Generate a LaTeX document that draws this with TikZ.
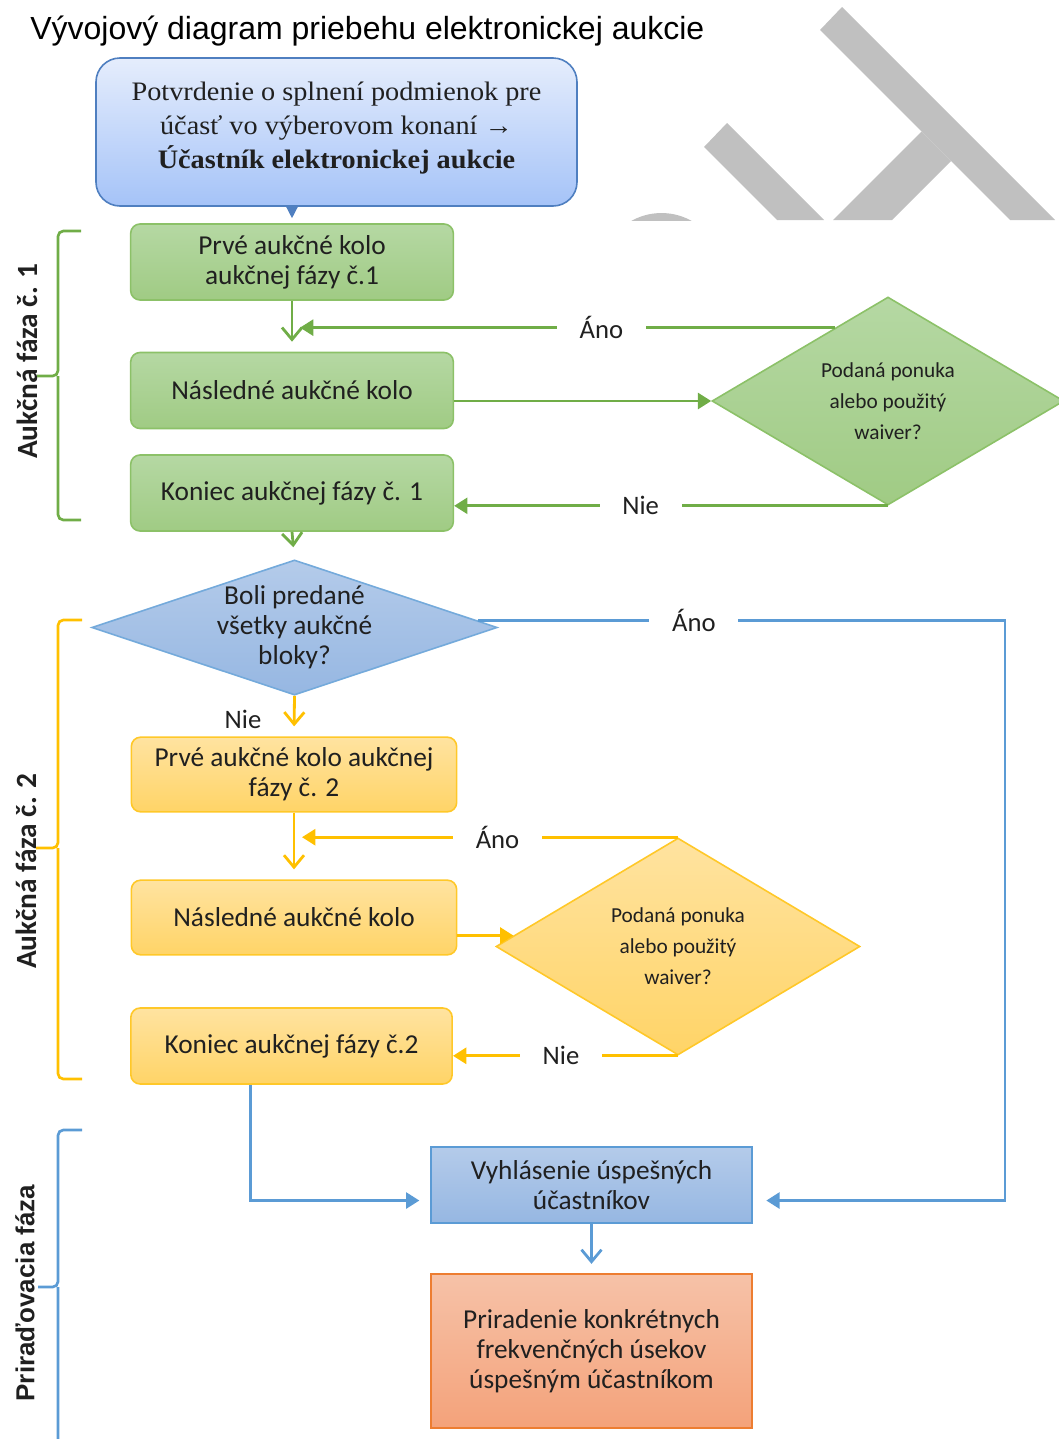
\documentclass[tikz,border=0pt]{standalone}
\usepackage{fontspec}
\setmainfont{Carlito}
\newfontfamily\titlefont{Liberation Sans}
\newfontfamily\startfont[FakeStretch=1.06]{Liberation Serif}
\usetikzlibrary{arrows.meta,calc,shapes.geometric}

\definecolor{wmgray}{HTML}{C0C0C0}
\definecolor{startline}{HTML}{4F7FC0}
\definecolor{starttop}{HTML}{E5EDFC}
\definecolor{startbot}{HTML}{A5C3F8}
\definecolor{grnline}{HTML}{70AD47}
\definecolor{grnborder}{HTML}{8CC168}
\definecolor{grntop}{HTML}{B5D8A3}
\definecolor{grnbot}{HTML}{A0CB84}
\definecolor{bluline}{HTML}{5B9BD5}
\definecolor{blutop}{HTML}{B4CBEA}
\definecolor{blubot}{HTML}{96B7E2}
\definecolor{yelline}{HTML}{FFC000}
\definecolor{yelborder}{HTML}{FFC829}
\definecolor{yeltop}{HTML}{FFE3A0}
\definecolor{yelbot}{HTML}{FFD467}
\definecolor{orgline}{HTML}{ED7D31}
\definecolor{orgtop}{HTML}{F6C2A8}
\definecolor{orgbot}{HTML}{F4A27A}
\definecolor{txt}{HTML}{202020}

\tikzset{
  boxtext/.style={text=txt, font=\fontsize{20.5}{22.5}\selectfont, align=center},
  greenbox/.style={boxtext, draw=grnborder, line width=1.2pt, rounded corners=7pt,
    top color=grntop, bottom color=grnbot, minimum width=242pt, minimum height=57pt},
  yellowbox/.style={boxtext, draw=yelborder, line width=1.2pt, rounded corners=7pt,
    top color=yeltop, bottom color=yelbot, minimum width=244pt, minimum height=56pt},
  bluebox/.style={boxtext, draw=bluline, line width=1.2pt,
    top color=blutop, bottom color=blubot, minimum width=241pt, minimum height=57pt},
  orangebox/.style={boxtext, draw=orgline, line width=1.2pt,
    top color=orgtop, bottom color=orgbot, minimum width=241pt, minimum height=115.5pt},
  ask/.style={diamond, align=center, inner sep=0pt, aspect=1.7, text=txt,
    font=\fontsize{16}{23.25}\selectfont},
  flowarrow/.style={line width=2.1pt, -{Straight Barb[length=9pt,width=15pt]}},
  tiparrow/.style={line width=2.1pt, -{Triangle[length=10pt,width=12pt]}},
  lbl/.style={fill=white, text=txt, inner xsep=17pt, inner ysep=1pt, font=\fontsize{20}{22}\selectfont},
  brace/.style={line width=2pt, rounded corners=4pt},
  phase/.style={rotate=90, text=txt, font=\bfseries\fontsize{22}{24}\selectfont}
}

\begin{document}
\begin{tikzpicture}[x=0.75pt, y=-0.75pt]
\useasboundingbox (0,0) rectangle (1059,1439);

\fill[wmgray] (842,7) -- (1055,220) -- (1010,220) -- (820,30) -- cycle;
\fill[wmgray] (921.5,131.5) -- (951,161) -- (892,220) -- (833,220) -- cycle;
\fill[wmgray] (727,123) -- (824,220) -- (777,220) -- (704,147) -- cycle;
\begin{scope}
  \clip (600,0) rectangle (1059,220);
  \fill[wmgray] (661.5,274.5) circle[radius=46.1pt];
\end{scope}

\node[anchor=west, inner sep=0pt, font=\titlefont\fontsize{24}{28}\selectfont] (title) at (30,31)
  {Vývojový diagram priebehu elektronickej aukcie};

\node[draw=startline, line width=1.2pt, rounded corners=18pt, top color=starttop, bottom color=startbot,
  minimum width=360.75pt, minimum height=111pt, align=center, text=txt,
  font=\startfont\fontsize{20}{25.5}\selectfont] (start) at (336.5,132)
  {Potvrdenie o splnení podmienok pre\\ účasť vo výberovom konaní →\\ \textbf{Účastník elektronickej aukcie}\vspace{6pt}};

\node[greenbox] (kolo1) at (292,262) {Prvé aukčné kolo\\ aukčnej fázy č.1};
\node[greenbox] (dalsie1) at (292,390.5) {Následné aukčné kolo};
\node[greenbox] (koniec1) at (292,493) {Koniec aukčnej fázy č. 1};
\node[ask, draw=grnborder, line width=1.2pt, top color=grntop, bottom color=grnbot,
  minimum width=264pt, minimum height=156pt] (ponuka1) at (888,401)
  {Podaná ponuka\\ alebo použitý\\ waiver?};

\node[ask, aspect=3, font=\fontsize{20.5}{22.5}\selectfont, draw=bluline!85, line width=1.2pt,
  top color=blutop, bottom color=blubot, minimum width=302pt, minimum height=101pt] (bloky) at (294.5,627.5)
  {Boli predané\\ všetky aukčné\\ bloky?};

\node[yellowbox] (kolo2) at (294,774.5) {Prvé aukčné kolo aukčnej\\ fázy č. 2};
\node[yellowbox] (dalsie2) at (294,917.5) {Následné aukčné kolo};
\node[yellowbox, minimum width=241pt, minimum height=57pt] (koniec2) at (291.5,1046) {Koniec aukčnej fázy č.2};
\node[ask, draw=yelborder, line width=1.2pt, top color=yeltop, bottom color=yelbot,
  minimum width=273pt, minimum height=162.75pt] (ponuka2) at (678,946.5)
  {Podaná ponuka\\ alebo použitý\\ waiver?};

\node[bluebox] (vyhl) at (591.5,1185) {Vyhlásenie úspešných\\ účastníkov};
\node[orangebox] (prir) at (591.5,1351) {Priradenie konkrétnych\\ frekvenčných úsekov\\ úspešným účastníkom};

\node[phase] (faza1) at (27,361) {Aukčná fáza č. 1};
\node[phase] (faza2) at (26,871) {Aukčná fáza č. 2};
\node[rotate=90, text=txt, font=\titlefont\bfseries\fontsize{19.5}{22}\selectfont] (faza3) at (25,1293) {Priraďovacia fáza};

\draw[grnline, brace] (81,231) -- (58,231) -- (58,376) -- (37,376) (58,376) -- (58,520) -- (81,520);
\draw[yelline, brace] (82,620) -- (58,620) -- (58,848) -- (36,848) (58,848) -- (58,1079) -- (82,1079);
\draw[bluline, brace] (82,1130) -- (58,1130) -- (58,1287) -- (38,1287) (58,1287) -- (58,1445);

\draw[startline, line width=1pt, -{Triangle[length=9pt,width=9pt]}, shorten >=3.75pt]
  (start.south -| kolo1.north) -- (kolo1.north);

\coordinate (ano1) at ($(ponuka1.north)!0.3!(ponuka1.west)$);
\draw[grnline, flowarrow, shorten >=7.5pt] (kolo1.south) -- (dalsie1.north);
\draw[grnline, tiparrow, shorten >=6pt] (ano1) -- node[lbl, pos=0.43] {Áno} (ano1 -| kolo1.south);
\draw[grnline, tiparrow] (ponuka1.west -| dalsie1.east) -- (ponuka1.west);
\draw[grnline, tiparrow] (ponuka1.south) -- node[lbl, pos=0.57] {Nie} (ponuka1.south -| koniec1.east);
\draw[grnline, flowarrow, shorten >=9pt] (koniec1.south) -- (bloky.north);

\coordinate (ano2) at ($(bloky.east)!0.1!(bloky.north)$);
\coordinate (obrat) at (1005,1200);
\coordinate (vin1) at ($(vyhl.west)!0.4!(vyhl.south west)$);
\coordinate (vin2) at ($(vyhl.east)!0.4!(vyhl.south east)$);
\draw[bluline, tiparrow, shorten >=10pt] (ano2) -- node[lbl, pos=0.41] {Áno} (ano2 -| obrat) |- (vin2);
\draw[yelline, flowarrow, shorten >=7.5pt] (bloky.south) -- (kolo2.north);
\node[text=txt, font=\fontsize{20}{22}\selectfont] (nie2) at (243,719) {Nie};

\coordinate (ano3) at ($(ponuka2.west)!0.1!(ponuka2.north)$);
\draw[yelline, flowarrow, shorten >=7.5pt] (kolo2.south) -- (dalsie2.north);
\draw[yelline, tiparrow, shorten >=6pt] (ponuka2.north) -- node[lbl, pos=0.47] {Áno} (ponuka2.north -| kolo2.south);
\draw[yelline, tiparrow] (ano3 -| dalsie2.east) -- (ano3);
\draw[yelline, tiparrow] (ponuka2.south) -- node[lbl, pos=0.52] {Nie} (ponuka2.south -| koniec2.east);

\coordinate (von) at ($(koniec2.south west)!0.374!(koniec2.south east)$);
\draw[bluline, tiparrow, shorten >=8pt] (von) |- (vin1);
\draw[bluline, flowarrow, shorten >=7pt] (vyhl.south) -- (prir.north);
\end{tikzpicture}
\end{document}
